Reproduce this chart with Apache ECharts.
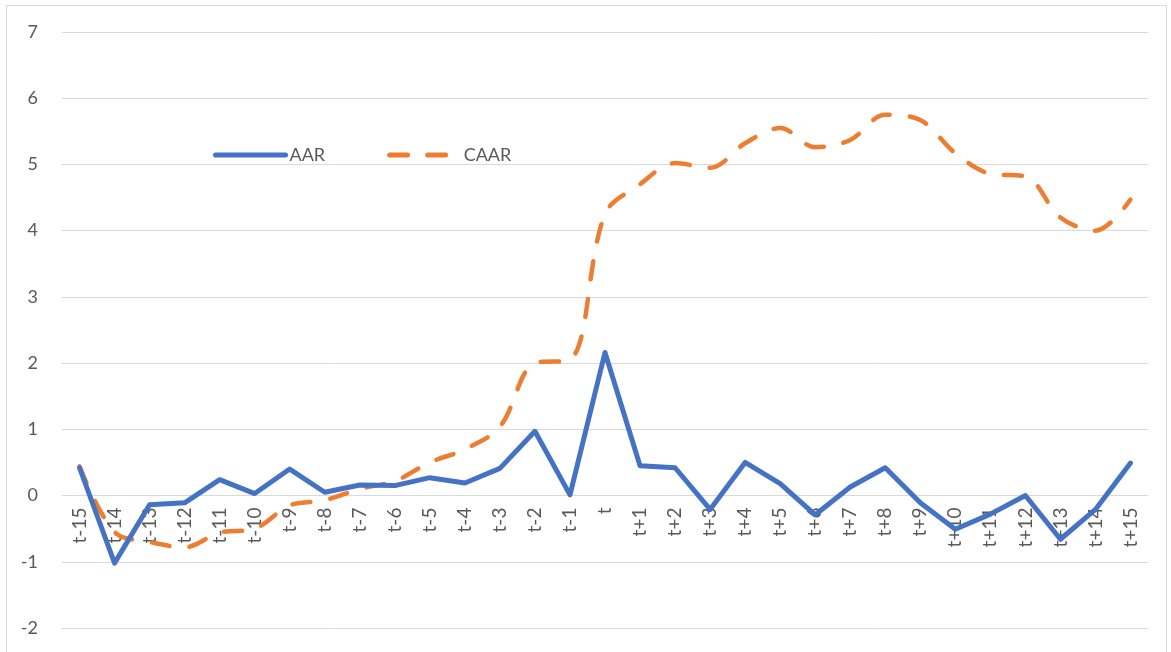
<!DOCTYPE html>
<html>
<head>
<meta charset="utf-8">
<script src="https://cdn.jsdelivr.net/npm/echarts@6/dist/echarts.min.js"></script>
<style>
html,body{margin:0;padding:0;background:#fff;}
#c{width:1171px;height:652px;}
</style>
</head>
<body>
<div id="c"></div>
<script>
const categories = ['t-15','t-14','t-13','t-12','t-11','t-10','t-9','t-8','t-7','t-6','t-5','t-4','t-3','t-2','t-1','t',
  't+1','t+2','t+3','t+4','t+5','t+6','t+7','t+8','t+9','t+10','t+11','t+12','t+13','t+14','t+15'];
const aar = [0.42,-1.02,-0.14,-0.11,0.24,0.03,0.40,0.05,0.16,0.15,0.27,0.19,0.41,0.97,0.01,2.16,
  0.45,0.42,-0.21,0.50,0.18,-0.29,0.13,0.42,-0.11,-0.51,-0.28,0.00,-0.66,-0.21,0.49];
const caar = [0.44,-0.55,-0.70,-0.78,-0.56,-0.50,-0.15,-0.07,0.10,0.22,0.50,0.70,1.04,2.00,2.05,4.25,
  4.70,5.02,4.95,5.32,5.55,5.26,5.37,5.75,5.67,5.17,4.86,4.82,4.20,4.00,4.47];
const yTicks = {min:-2, max:7, interval:1};

const W = 1171, H = 652;
const gridCfg = {left:62,right:23,top:32,bottom:24};
const plotH = H - gridCfg.top - gridCfg.bottom;
// lift the category axis from the bottom edge up to the value 0 line
const zeroOffset = -plotH * (0 - yTicks.min) / (yTicks.max - yTicks.min);

const chart = echarts.init(document.getElementById('c'), null, {renderer:'canvas'});
const font = 'Lato, "Open Sans", sans-serif';
chart.setOption({
  animation:false,
  backgroundColor:'#fff',
  graphic:[{type:'rect',shape:{x:6.5,y:5.5,width:1160,height:700},style:{fill:'none',stroke:'#d9d9d9',lineWidth:1},silent:true,z:-1}],
  grid:Object.assign({containLabel:false,outerBoundsMode:'none'},gridCfg),
  legend:{
    left:208, top:141, itemWidth:70, itemHeight:14, itemGap:62,
    itemStyle:{opacity:0},
    lineStyle:{width:5},
    textStyle:{color:'#595959',fontSize:18,fontFamily:font,padding:[0,0,0,-1]},
    data:['AAR','CAAR']
  },
  xAxis:{
    type:'category', data:categories, boundaryGap:true, position:'bottom', offset:zeroOffset,
    axisLine:{show:true,onZero:false,lineStyle:{color:'#d9d9d9',width:1}},
    axisTick:{show:false},
    axisLabel:{rotate:90,color:'#595959',fontSize:19,fontFamily:font,interval:0,margin:12},
    splitLine:{show:false}
  },
  yAxis:{
    type:'value', min:yTicks.min, max:yTicks.max, interval:yTicks.interval,
    axisLine:{show:false}, axisTick:{show:false},
    axisLabel:{color:'#595959',fontSize:18,fontFamily:font,margin:24},
    splitLine:{lineStyle:{color:'#d9d9d9',width:1}}
  },
  series:[
    {name:'AAR',type:'line',data:aar,symbol:'none',smooth:false,
     lineStyle:{color:'#4472C4',width:5,cap:'round',join:'round'},itemStyle:{color:'#4472C4'},z:3},
    {name:'CAAR',type:'line',data:caar,symbol:'none',smooth:0.35,
     lineStyle:{color:'#ED7D31',width:4.5,type:[18,20],cap:'round',join:'round'},itemStyle:{color:'#ED7D31'},z:2}
  ]
});
</script>
</body>
</html>
